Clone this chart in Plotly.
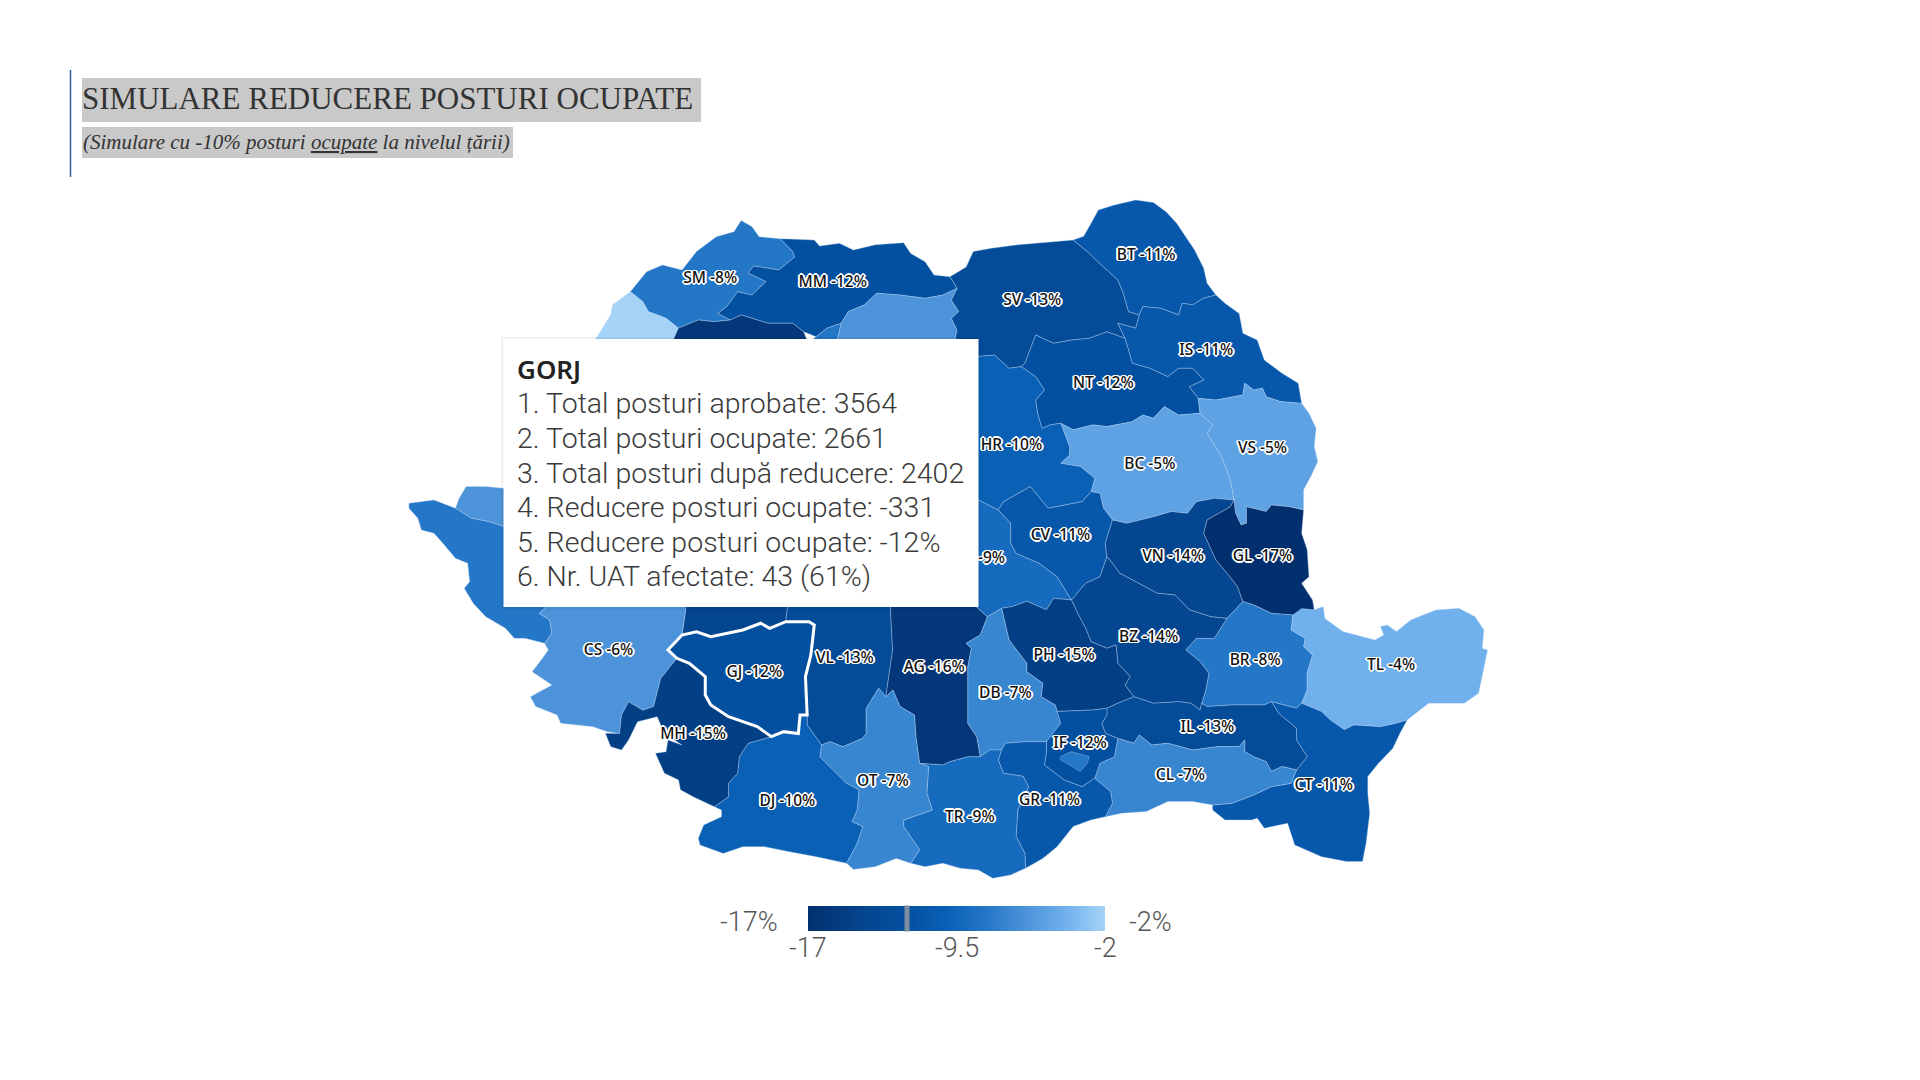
import urllib.parse

import plotly.graph_objects as go

# Values (the ones under the tooltip are estimates)
county_codes = ["SM", "MM", "BH", "SJ", "CJ", "BN", "SV", "BT", "IS", "NT", "VS", "BC",
                "HR", "MS", "AR", "TM", "AB", "SB", "HD", "CS", "VL", "AG", "BV", "CV",
                "VN", "GL", "BR", "BZ", "PH", "DB", "TL", "CT", "IL", "CL", "IF", "B",
                "GR", "TR", "OT", "DJ", "MH", "GJ"]
county_values = [-8, -12, -2, -16, -8, -6, -13, -11, -11, -12, -5, -5,
                 -10, -9, -6, -8, -11, -10, -14, -6, -13, -16, -9, -11,
                 -14, -17, -8, -14, -15, -7, -4, -11, -13, -7, -12, -8,
                 -11, -9, -7, -10, -15, -12]

color_stops = [-17, -14, -12, -10, -8, -6, -4, -2]
color_values = ["#02306e", "#044690", "#0450a0", "#0a60b5", "#2476c7", "#4c93d9", "#70b0ec", "#a5d3f8"]

bar_ticks = [-17, -9.5, -2]
bar_tick_labels = ["-17", "-9.5", "-2"]
bar_min_label = "-17%"
bar_max_label = "-2%"

title_text = "SIMULARE REDUCERE POSTURI OCUPATE"
subtitle_text = "<i>(Simulare cu -10% posturi <u>ocupate</u> la nivelul țării)</i>"

hover_code = "GJ"
tooltip_title = "GORJ"
tooltip_lines = [
    "1. Total posturi aprobate: 3564",
    "2. Total posturi ocupate: 2661",
    "3. Total posturi după reducere: 2402",
    "4. Reducere posturi ocupate: -331",
    "5. Reducere posturi ocupate: -12%",
    "6. Nr. UAT afectate: 43 (61%)",
]

# County outlines (in its 1568 wide frame)
OUTLINES = {
    "SM": [(514.8,238.2),(528,222),(541,216.4),(557,220.5),(568.8,205.5),(585,193.3),(599.4,189.2),(605.3,180.2),(614,185),(620,193.3),(637.3,195),(647.5,205.5),(649,210),(636,220.5),(615.5,217.2),(611,223),(625.7,230),(614,241),(602.4,238.2),(593.6,250.4),(586.3,256),(596.5,261.3),(583.4,262.7),(570.3,261.3),(554,268),(544,260),(529.4,254.5),(525,246.4)],
    "MM": [(637.3,195),(650.5,195.5),(665,196),(669.4,201),(685.5,198.7),(697,204.2),(714.7,200),(738,198.2),(743.8,207),(755.5,213.7),(762.8,224.6),(775.8,226),(781.7,235.5),(770,241),(755.5,243.6),(735,241),(716,239.5),(706,249),(692.8,254.5),(687,264),(675.3,268),(666.5,275),(656.3,270.9),(647.5,264),(627,264),(605.3,257.2),(596.5,261.3),(586.3,256),(593.6,250.4),(602.4,238.2),(614,241),(625.7,230),(611,223),(615.5,217.2),(636,220.5),(649,210),(647.5,205.5)],
    "BH": [(514.8,238.2),(500.3,249),(498.8,257),(488.6,273.6),(470,300),(470,360),(500,350),(540,300),(554,268),(544,260),(529.4,254.5),(525,246.4)],
    "SJ": [(554,268),(570.3,261.3),(583.4,262.7),(596.5,261.3),(605.3,257.2),(627,264),(647.5,264),(656.3,270.9),(660,280),(655,330),(600,340),(540,300)],
    "CJ": [(666.5,275),(675.3,268),(687,264),(684,277),(680,340),(650,340),(660,280)],
    "BN": [(687,264),(692.8,254.5),(706,249),(716,239.5),(735,241),(755.5,243.6),(770,241),(781.7,235.5),(777,245),(783,254.5),(777,260),(781.6,269.5),(780,277),(780,310),(700,300),(684,277)],
    "SV": [(775.8,226),(789,218),(794.8,205.5),(809.3,202.8),(831,200),(860.4,197.4),(876.4,196),(888,205.5),(901,217.8),(913,228.7),(917.3,239.5),(921.6,254.5),(930.4,257.2),(927.5,268),(912.9,264),(918.7,276.3),(904,271),(889.6,276.3),(875,277.7),(860.4,280.4),(845.8,273.6),(837,296.7),(834,299.4),(824,300.8),(812.3,290),(800,291),(790,295),(780,277),(781.6,269.5),(777,260),(783,254.5),(777,245),(781.7,235.5)],
    "BT": [(876.4,196),(885,193),(892.5,179.7),(896.9,171.5),(910,167.4),(927.5,163.3),(942,165.5),(952.3,172.9),(961,182.4),(968.3,193.3),(975.6,204.2),(983,219),(985.8,231.4),(993,241),(983,243.6),(974,249),(965.4,247.7),(962.5,257.2),(948,251.8),(933.3,250.4),(930.4,257.2),(921.6,254.5),(917.3,239.5),(913,228.7),(901,217.8),(888,205.5)],
    "IS": [(993,241),(1000.4,247.7),(1012,256),(1015,272.2),(1026.7,277.7),(1032.5,294),(1047,304.9),(1060.2,313),(1063,329.4),(1045.6,328),(1034,324),(1031,317),(1023.8,318.5),(1016.5,313),(1015,322.6),(993,326.7),(978.5,325.3),(971.2,315.8),(983,310.3),(974,300.8),(962.5,300.8),(953.7,307.6),(939,300.8),(924.6,296.7),(921.6,285.8),(918.7,276.3),(912.9,264),(927.5,268),(930.4,257.2),(933.3,250.4),(948,251.8),(962.5,257.2),(965.4,247.7),(974,249),(983,243.6)],
    "NT": [(918.7,276.3),(921.6,285.8),(924.6,296.7),(939,300.8),(953.7,307.6),(962.5,300.8),(974,300.8),(983,310.3),(971.2,315.8),(978.5,325.3),(980,337.5),(962.5,339),(950.8,332),(942,341.6),(933.3,339),(924.6,344.4),(904,348.4),(892.5,347),(876.4,351),(866.2,345.7),(857.5,347),(851,350),(847.3,337.5),(845.8,326.7),(853,318.5),(845.8,307.6),(834,299.4),(837,296.7),(845.8,273.6),(860.4,280.4),(875,277.7),(889.6,276.3),(904,271)],
    "VS": [(978.5,325.3),(993,326.7),(1015,322.6),(1016.5,313),(1023.8,318.5),(1031,317),(1034,324),(1045.6,328),(1063,329.4),(1069,337.5),(1074.8,349.8),(1073.3,364.8),(1076.2,377),(1070.4,389.3),(1064.6,400),(1064.6,416.5),(1052.9,413.8),(1038.3,412.4),(1034,417.8),(1017.9,413.8),(1018,427.4),(1013.5,428.7),(1009,419),(1007.7,408.3),(1004.8,392),(997.5,373),(985.8,353.9),(990.2,347),(980,337.5)],
    "BC": [(866.2,345.7),(876.4,351),(892.5,347),(904,348.4),(924.6,344.4),(933.3,339),(942,341.6),(950.8,332),(962.5,339),(980,337.5),(990.2,347),(985.8,353.9),(997.5,373),(1004.8,392),(1007.7,408.3),(991.7,407),(977,409.7),(969.8,419.2),(956.7,417.8),(942,422),(920.2,427.4),(908.5,424.6),(901.2,415),(898.3,402.9),(891,401.5),(894,390.6),(882.3,381),(866.2,378.4),(873.5,371.6),(873.5,364.8)],
    "HR": [(800,291),(812.3,290),(824,300.8),(834,299.4),(845.8,307.6),(853,318.5),(845.8,326.7),(847.3,337.5),(851,350),(857.5,347),(866.2,345.7),(873.5,364.8),(873.5,371.6),(866.2,378.4),(882.3,381),(894,390.6),(891,401.5),(883.7,409.7),(856,415),(841.4,397.4),(819.6,409.7),(815.2,416.5),(799,408.3),(780,405),(775,300)],
    "MS": [(700,300),(780,310),(775,300),(780,405),(720,400),(690,350)],
    "AR": [(375,407),(380.7,397.4),(396.7,397.4),(411.3,398.8),(450,360),(480,430),(411.3,430),(399.6,426),(385,423.3),(372,415)],
    "TM": [(334,411),(354.4,408.3),(372,415),(385,423.3),(399.6,426),(411.3,430),(480,430),(470,490),(446.3,495.4),(440.5,501),(449,506.3),(450.7,517.2),(444.8,525.4),(428.8,521.3),(420,521.3),(412.8,513.1),(396.7,503.6),(386.5,492.7),(379.2,480.5),(383.6,475),(382,460),(372,456),(361.7,443.7),(354.4,435.5),(344.2,432.8),(341.3,423.3),(334,415)],
    "AB": [(500,350),(600,340),(680,340),(690,350),(660,440),(560,440),(480,430)],
    "SB": [(690,350),(720,400),(780,405),(780,480),(650,480),(660,440)],
    "HD": [(480,430),(560,440),(660,440),(650,480),(643,496.8),(641.7,507.7),(628.6,513.1),(621.3,509),(606.7,514.5),(580.5,520),(568.8,515.9),(557,518.6),(560,498),(555,480),(470,490)],
    "CS": [(470,490),(555,480),(560,498),(557,518.6),(545.5,530.8),(552.8,537.6),(539.6,554),(533.8,577),(525,580),(513.4,573),(507.6,584),(506,599),(496,597.5),(484.2,593.4),(458,590.7),(455,584),(437.5,577),(433.2,569),(450.7,559.4),(434.6,548.5),(442,539),(447.8,530.8),(444.8,525.4),(450.7,517.2),(449,506.3),(440.5,501),(446.3,495.4)],
    "VL": [(650,480),(726.3,480),(729,530.8),(723.4,569),(717.6,562),(707.4,578.5),(707.4,599),(704.5,603),(688.4,609.8),(678,605.7),(670.9,608.4),(659.2,592),(659.2,584),(657.8,552.6),(662.2,535),(665,510.4),(660.7,507.7),(641.7,507.7),(643,496.8)],
    "AG": [(726.3,480),(780,480),(799,497),(806.4,503.6),(800.6,518.5),(789,525.4),(793.3,529.4),(790.4,544.4),(790.4,590.7),(797.7,601.6),(800.6,618),(790.4,618),(775.8,622),(770,624.7),(751,623.4),(748,601.6),(746.8,584),(735,577),(729.2,563.5),(723.4,569),(729,530.8)],
    "BV": [(780,405),(799,408.3),(815.2,416.5),(825.4,427.4),(825.4,443.7),(829.8,451.9),(848.7,460),(863.3,471),(875,490),(860.4,488.6),(854.6,498),(838.5,491),(826.8,495.4),(818,496.8),(806.4,503.6),(799,497),(780,480)],
    "CV": [(815.2,416.5),(819.6,409.7),(841.4,397.4),(856,415),(883.7,409.7),(891,401.5),(898.3,402.9),(901.2,415),(908.5,424.6),(902.6,443.7),(904,454.6),(898.3,471),(886.6,476.4),(875,490),(863.3,471),(848.7,460),(829.8,451.9),(825.4,443.7),(825.4,427.4)],
    "VN": [(908.5,424.6),(920.2,427.4),(942,422),(956.7,417.8),(969.8,419.2),(977,409.7),(991.7,407),(1007.7,408.3),(1004.8,413.8),(985.8,424.6),(983,435.5),(993,457.3),(1003.3,469.6),(1010.6,479),(1015,491.3),(1001.9,505),(988.7,503.6),(971.2,498),(959.6,485.9),(945,484.5),(927.5,475),(914.4,468.2),(908.5,460),(904,454.6),(902.6,443.7)],
    "GL": [(985.8,424.6),(1004.8,413.8),(1007.7,408.3),(1009,419),(1013.5,428.7),(1018,427.4),(1017.9,413.8),(1034,417.8),(1038.3,412.4),(1052.9,413.8),(1064.6,416.5),(1063,435.5),(1067.5,449),(1069,471),(1063,476.4),(1071.9,490),(1073.3,498),(1055.8,502.2),(1038.3,500.9),(1023.8,494),(1015,491.3),(1010.6,479),(1003.3,469.6),(993,457.3),(983,435.5)],
    "BR": [(1015,491.3),(1023.8,494),(1038.3,500.9),(1055.8,502.2),(1054.4,514.5),(1066,521.3),(1064.6,528),(1071.9,534.9),(1067.5,549.8),(1067.5,563.5),(1063,574.3),(1058.8,578.4),(1038.3,573),(1032.5,575.7),(1006.2,575.7),(985.8,577),(981.4,574.3),(984.4,564.8),(987.3,549.8),(980,540.3),(968.3,530.8),(977,521.3),(991.7,521.3),(1001.9,505)],
    "BZ": [(875,490),(886.6,476.4),(898.3,471),(904,454.6),(908.5,460),(914.4,468.2),(927.5,475),(945,484.5),(959.6,485.9),(971.2,498),(988.7,503.6),(1001.9,505),(991.7,521.3),(977,521.3),(968.3,530.8),(980,540.3),(987.3,549.8),(984.4,564.8),(981.4,574.3),(980,579.8),(972.7,574.3),(962.5,573),(942,574.3),(926,569),(918.7,559.4),(923,552.6),(912.9,541.7),(911.4,526.7),(904,529.4),(891,524),(886.6,513.1),(880.8,502.2)],
    "PH": [(875,490),(880.8,502.2),(886.6,513.1),(891,524),(904,529.4),(911.4,526.7),(912.9,541.7),(923,552.6),(918.7,559.4),(926,569),(912.9,574.3),(904,578.4),(892.5,579.8),(863.3,581),(861.8,575.7),(850.2,569),(851.6,558),(838.5,548.5),(838.5,541.7),(824,522.6),(818,496.8),(826.8,495.4),(838.5,491),(854.6,498),(860.4,488.6)],
    "DB": [(818,496.8),(824,522.6),(838.5,541.7),(838.5,548.5),(851.6,558),(850.2,569),(861.8,575.7),(863.3,581),(866.2,590.7),(854.6,605.7),(838.5,605.7),(821,607),(818,612.5),(808,612.5),(800.6,618),(797.7,601.6),(790.4,590.7),(790.4,544.4),(793.3,529.4),(789,525.4),(800.6,518.5),(806.4,503.6)],
    "TL": [(1055.8,502.2),(1063,497),(1073.3,498),(1080.6,495.4),(1082,505),(1096.7,515.8),(1122.9,522.6),(1130,518.5),(1127.3,511.7),(1133,510.4),(1140.4,515.8),(1152,506.3),(1172.5,498.1),(1191.5,496.8),(1204.6,503.6),(1211.9,514.5),(1210.4,529.4),(1214.8,530.8),(1207.5,566.2),(1195.8,574.3),(1166.7,574.3),(1149.2,588),(1140.4,590.7),(1127.3,593.4),(1105.4,592),(1098,596),(1086.5,588),(1079.2,581),(1063,574.3),(1067.5,563.5),(1067.5,549.8),(1071.9,534.9),(1064.6,528),(1066,521.3),(1054.4,514.5)],
    "CT": [(1038.3,573),(1058.8,578.4),(1063,574.3),(1079.2,581),(1086.5,588),(1098,596),(1105.4,592),(1127.3,593.4),(1140.4,590.7),(1149.2,588),(1143.3,598.8),(1137.5,611),(1125.8,623.3),(1117,634.2),(1117,648),(1118.6,664.2),(1115.6,688.7),(1112.7,703.6),(1099.6,703.6),(1079.2,699.6),(1057.3,690),(1051.5,672.3),(1032.5,676.4),(1026.7,668.3),(1022.3,669.6),(1000.4,669.6),(990.2,661.5),(990.2,657.4),(1006.2,656),(1023.8,649.2),(1038.3,642.4),(1054.4,639.7),(1058.8,628.8),(1067.5,617.9),(1058.8,604.3),(1058.8,594.8),(1044.2,582.5)],
    "IL": [(926,569),(942,574.3),(962.5,573),(972.7,574.3),(980,579.8),(981.4,574.3),(985.8,577),(1006.2,575.7),(1032.5,575.7),(1038.3,573),(1044.2,582.5),(1058.8,594.8),(1058.8,604.3),(1067.5,617.9),(1058.8,628.8),(1047,626),(1038.3,630),(1034,622),(1023.8,618),(1016.5,613.8),(1016.5,604.3),(1012,609.7),(994.6,609.7),(974.2,612.5),(953.7,607),(940.6,608.4),(930.4,600.2),(926,607),(912.9,603),(902.7,598.8),(899.8,590.7),(904,583.9),(904,578.4),(912.9,574.3)],
    "CL": [(894,635.6),(898.3,623.3),(910,618),(912.9,603),(926,607),(930.4,600.2),(940.6,608.4),(953.7,607),(974.2,612.5),(994.6,609.7),(1012,609.7),(1016.5,604.3),(1016.5,613.8),(1023.8,618),(1034,622),(1038.3,630),(1047,626),(1058.8,628.8),(1054.4,639.7),(1038.3,642.4),(1023.8,649.2),(1006.2,656),(990.2,657.4),(974,654.6),(953.7,654.6),(936.2,662.8),(915.8,664.2),(902.7,667),(908.5,656),(907,646.5)],
    "IF": [(863.3,581),(892.5,579.8),(904,578.4),(904,583.9),(899.8,590.7),(902.7,598.8),(912.9,603),(910,618),(898.3,623.3),(894,635.6),(883.7,642.4),(869.1,637),(853,624.7),(854.6,613.8),(854.6,605.7),(866.2,590.7)],
    "B": [(866.2,617.9),(875,613.8),(889.6,617.9),(888,623.3),(882.3,630),(866.2,620.6)],
    "GR": [(818,612.5),(821,607),(838.5,605.7),(854.6,605.7),(854.6,613.8),(853,624.7),(869.1,637),(883.7,642.4),(894,635.6),(907,646.5),(908.5,656),(902.7,667),(891,669.6),(876.4,675),(863.3,691.4),(851.6,701),(837.6,709),(837,696.8),(829.8,683),(831.2,661.5),(840,642.4),(835.6,634),(819.5,631.5),(815.2,620.6)],
    "TR": [(751,623.4),(770,624.7),(775.8,622),(790.4,618),(800.6,618),(808,612.5),(818,612.5),(815.2,620.6),(819.5,631.5),(835.6,634),(840,642.4),(831.2,661.5),(829.8,683),(837,696.8),(837.6,709),(825.4,714.5),(810.8,717.3),(799,710.5),(784,709),(770,705),(755.5,707.8),(743.8,705),(751,694),(738,675),(738,669.7),(761.3,661.5),(757,647.9),(758.4,626)],
    "OT": [(670.9,608.4),(678,605.7),(688.4,609.8),(704.5,603),(707.4,599),(707.4,578.5),(717.6,562),(723.4,569),(729.2,563.5),(735,577),(746.8,584),(748,601.6),(751,623.4),(758.4,626),(757,647.9),(761.3,661.5),(738,669.7),(738,675),(751,694),(743.8,705),(732,701),(714.7,707.8),(697,710),(691.3,705),(700,688.7),(704.5,675),(695.7,671),(700,661.5),(701.5,645),(691.3,639.7),(669.5,618)],
    "DJ": [(630,601.6),(640,597.5),(652,599),(653.4,584),(659.2,584),(659.2,592),(670.9,608.4),(669.5,618),(691.3,639.7),(701.5,645),(700,661.5),(695.7,671),(704.5,675),(700,688.7),(691.3,705),(666.5,699.6),(644.6,695.5),(624.2,691.4),(606.7,691.4),(590.7,696.9),(571.7,690),(570.3,684.6),(574.7,673.7),(589.2,667),(589.2,661.5),(583.4,658.8),(595,650.6),(595,639.7),(602.4,631.5),(603.8,618),(611,607)],
    "MH": [(552.8,537.6),(563,541.7),(576,552.6),(576,567.6),(580.5,575.7),(595,585.3),(618.4,593.4),(630,601.6),(611,607),(603.8,618),(602.4,631.5),(595,639.7),(595,650.6),(583.4,658.8),(566,650.6),(555.7,645),(554.2,637),(542.6,631.5),(535.3,615.2),(544,613.9),(545.5,604.3),(557,608.4),(542.6,598.9),(536.7,585.3),(520.7,589.4),(513.4,604.3),(507.6,612.5),(498.8,609.8),(494.4,598.9),(506,599),(507.6,584),(513.4,573),(525,580),(533.8,577),(539.6,554)],
    "GJ": [(545.5,530.8),(557,518.6),(568.8,515.9),(580.5,520),(606.7,514.5),(621.3,509),(628.6,513.1),(641.7,507.7),(660.7,507.7),(665,510.4),(662.2,535),(657.8,552.6),(659.2,584),(653.4,584),(652,599),(640,597.5),(630,601.6),(618.4,593.4),(595,585.3),(580.5,575.7),(576,567.6),(576,552.6),(563,541.7),(552.8,537.6)],
}

# Where each visible county label sits, same frame (the rest are behind the tooltip)
LABEL_AT = {
    "SM": (580,228), "MM": (680,231), "SV": (843,246), "BT": (936,209), "IS": (985,287), "NT": (901,314),
    "VS": (1031,367), "BC": (939,380), "HR": (826,364), "CS": (497,532), "VL": (690,538), "AG": (763,546),
    "BV": (800,457), "CV": (866,438), "VN": (958,455), "GL": (1031,455), "BR": (1025,540), "BZ": (938,521),
    "PH": (869,536), "DB": (821,567), "TL": (1136,544), "CT": (1081,642), "IL": (986,595), "CL": (964,634),
    "IF": (882,608), "GR": (857,654), "TR": (792,668), "OT": (721,639), "DJ": (643,655), "MH": (566,600),
    "GJ": (616,550),
}

FRAME = 1920 / 1568
BAR_LEFT = 808
BAR_WIDTH = 297
BAR_MIN = -17
BAR_MAX = -2

# The map only uses our own outlines, so geo gets an empty basemap instead of the CDN one
EMPTY_TOPOJSON = '{"type":"Topology","objects":{},"arcs":[]}'
TOPOJSON_URL = "data:application/json," + urllib.parse.quote(EMPTY_TOPOJSON) + "#"

HALO = ", ".join(f"{dx}px {dy}px 0 #fff" for dx, dy in
                 [(1.5, 0), (-1.5, 0), (0, 1.5), (0, -1.5), (1, 1), (-1, -1), (1, -1), (-1, 1), (2, 0), (-2, 0)])


def to_lonlat(point):
    return [(point[0] * FRAME - 960) / 100, (540 - point[1] * FRAME) / 100]


def clockwise(ring):
    area = sum(a[0] * b[1] - b[0] * a[1] for a, b in zip(ring, ring[1:]))
    return ring[::-1] if area > 0 else ring


def feature(code):
    ring = [to_lonlat(p) for p in OUTLINES[code]]
    ring.append(ring[0])
    return {"type": "Feature", "id": code, "properties": {},
            "geometry": {"type": "Polygon", "coordinates": [clockwise(ring)]}}


def xp(px):
    return px / 1920


def yp(py):
    return 1 - py / 1080


def bar_x(value):
    return BAR_LEFT + (value - BAR_MIN) / (BAR_MAX - BAR_MIN) * BAR_WIDTH


geojson = {"type": "FeatureCollection", "features": [feature(c) for c in county_codes]}
colorscale = [[(v - color_stops[0]) / (color_stops[-1] - color_stops[0]), c]
              for v, c in zip(color_stops, color_values)]

fig = go.Figure()
fig.add_trace(go.Choropleth(
    geojson=geojson,
    locations=county_codes,
    z=county_values,
    zmin=BAR_MIN,
    zmax=BAR_MAX,
    colorscale=colorscale,
    marker_line_color=["#ffffff" if c == hover_code else "rgba(190,215,245,0.5)" for c in county_codes],
    marker_line_width=[3 if c == hover_code else 0.7 for c in county_codes],
    colorbar=dict(
        orientation="h",
        lenmode="pixels", len=BAR_WIDTH,
        thicknessmode="pixels", thickness=25,
        x=xp(BAR_LEFT + BAR_WIDTH / 2), xanchor="center",
        y=yp(931), yanchor="bottom",
        xpad=0, ypad=0,
        outlinewidth=0,
        ticks="",
        showticklabels=False,
    ),
))

label_codes = [c for c in county_codes if c in LABEL_AT]
fig.add_trace(go.Scattergeo(
    lon=[to_lonlat(LABEL_AT[c])[0] for c in label_codes],
    lat=[to_lonlat(LABEL_AT[c])[1] for c in label_codes],
    text=[f"{c} {county_values[county_codes.index(c)]}%" for c in label_codes],
    mode="text",
    textposition="middle center",
    textfont=dict(family="Noto Sans", size=15.5, weight=500, color="#111111", shadow=HALO),
    showlegend=False,
    hoverinfo="skip",
))

shapes = [
    dict(type="line", x0=xp(70.5), x1=xp(70.5), y0=yp(70), y1=yp(177), line=dict(color="#2f5f9f", width=1.5)),
    dict(type="rect", x0=xp(82), x1=xp(701), y0=yp(78), y1=yp(122), fillcolor="#c9c9c9", line_width=0),
    dict(type="rect", x0=xp(82), x1=xp(513), y0=yp(127), y1=yp(158), fillcolor="#c9c9c9", line_width=0),
    dict(type="rect", x0=xp(501), x1=xp(981), y0=yp(337), y1=yp(610), fillcolor="rgba(0,0,0,0.05)", line_width=0),
    dict(type="rect", x0=xp(503.5), x1=xp(978.5), y0=yp(339), y1=yp(607), fillcolor="#ffffff", line_width=0),
]
for s in shapes:
    s.update(xref="paper", yref="paper", layer="above")

bar_font = dict(family="Roboto", size=27, weight=300, color="#555555")
annotations = [
    dict(x=xp(80), y=yp(98), text=title_text, xanchor="left", yanchor="middle",
         font=dict(family="Liberation Serif", size=31, color="#333333")),
    dict(x=xp(81), y=yp(142), text=subtitle_text, xanchor="left", yanchor="middle",
         font=dict(family="Liberation Serif", size=21, color="#333333")),
    dict(x=xp(515), y=yp(369), text=tooltip_title, xanchor="left", yanchor="middle",
         font=dict(family="Noto Sans", size=26, weight=600, color="#222222")),
    dict(x=xp(780), y=yp(922), text=bar_min_label, xanchor="right", yanchor="middle", font=bar_font),
    dict(x=xp(1127), y=yp(922), text=bar_max_label, xanchor="left", yanchor="middle", font=bar_font),
    # grey mark on the colour bar for the hovered county
    dict(x=xp(bar_x(county_values[county_codes.index(hover_code)])), y=yp(918.4),
         text=" ", width=4, height=25, bgcolor="#7f8da0", xanchor="center", yanchor="middle", borderpad=0),
]
for tick, label in zip(bar_ticks, bar_tick_labels):
    annotations.append(dict(x=xp(bar_x(tick)), y=yp(948), text=label, xanchor="center", yanchor="middle",
                            font=bar_font))
for i, line in enumerate(tooltip_lines):
    annotations.append(dict(x=xp(515), y=yp(404 + i * 34.55), text=line, xanchor="left", yanchor="middle",
                            font=dict(family="Roboto", size=28.5, weight=300, color="#3a3a3a")))
for a in annotations:
    a.update(xref="paper", yref="paper", showarrow=False)

fig.update_layout(
    width=1920,
    height=1080,
    margin=dict(l=0, r=0, t=0, b=0),
    paper_bgcolor="#ffffff",
    showlegend=False,
    shapes=shapes,
    annotations=annotations,
    geo=dict(
        domain=dict(x=[0, 1], y=[0, 1]),
        projection_type="equirectangular",
        lonaxis_range=[-9.6, 9.6],
        lataxis_range=[-5.4, 5.4],
        visible=False,
        bgcolor="#ffffff",
    ),
)

fig.write_html("out.html", config={"topojsonURL": TOPOJSON_URL, "displayModeBar": False},
               post_script="document.body.style.margin='0';document.body.style.overflow='hidden';")
